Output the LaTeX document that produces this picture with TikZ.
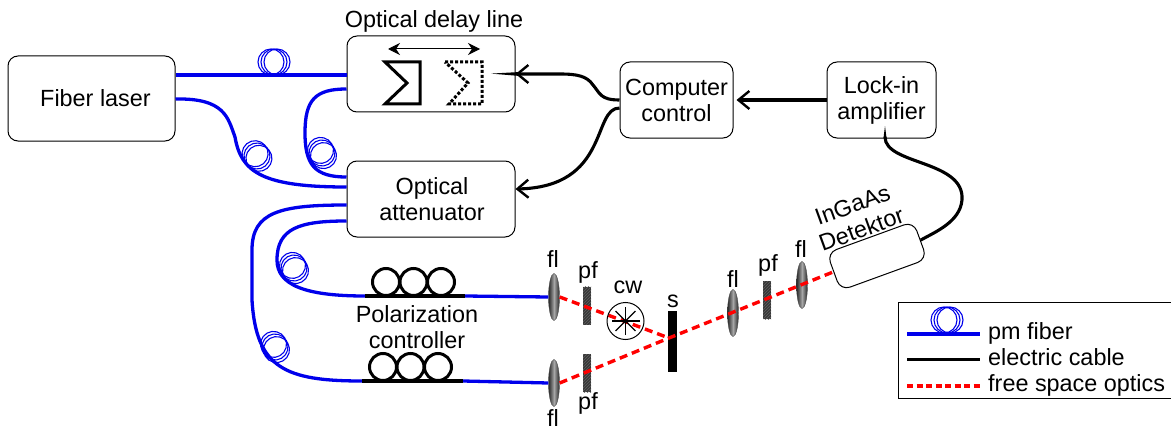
\documentclass[tikz,border=0pt]{standalone}
\usepackage{fontspec}
\setmainfont{Liberation Sans}
\usetikzlibrary{arrows.meta,shapes.geometric,patterns}
\definecolor{fiberblue}{RGB}{0,0,235}
\tikzset{
    coil/.pic={
        \foreach \d in {-3,0,3}
            \draw[fiberblue,line width=1.1] (\d,0) circle (13);
    },
    pc/.pic={
        \foreach \d in {0,27.5,55}
            \draw[black,line width=3] (\d,0) circle (13.5);
    }
}
\begin{document}
\begin{tikzpicture}[x=1pt,y=-1pt,node distance=125pt,>={Straight Barb[length=11pt,width=18pt,line width=2.4pt]},
        box/.style={draw,rounded corners=10,line width=1,align=center,minimum width=168,minimum height=76,inner sep=0},
        ctrl/.style={box,minimum width=113,minimum height=76},
        lens/.style={ellipse,draw=black!70,line width=0.4,minimum width=11,minimum height=47,inner sep=0,left color=black!85,right color=black!85,middle color=black!35},
        filter/.style={rectangle,fill=black!78,minimum width=8,minimum height=38,inner sep=0,postaction={pattern=north east lines,pattern color=black!62}},
        txt/.style={inner sep=0,align=center},
        fiber/.style={fiberblue,line width=3.3},
        cable/.style={black,line width=3.1},
        beam/.style={red,line width=3.4,dash pattern=on 8pt off 5pt},
        every node/.style={font=\fontsize{23.4}{26}\selectfont}]
    \useasboundingbox (0,0) rectangle (1171,428);

    \node[box,minimum width=167,minimum height=85] (laser) at (91.5,98.5) {\hspace{8pt}Fiber laser};
    \node[box] (delay) at (431,74) {};
    \node[box] (atten) [below of = delay] {\hspace{2pt}Optical\\\hspace{2pt}attenuator};
    \node[txt] (delaytext) [above of = delay, xshift = 3, yshift = -73] {\strut Optical delay line};
    \node[ctrl] (comp) at (676.5,100) {Computer\\control};
    \node[ctrl,minimum width=109] (lock) [right of = comp, xshift = 80] {Lock-in\\amplifier};
    \node[box,rotate=20,minimum width=92,minimum height=40] (det) at (877,256) {};
    \node[txt,rotate=20] (dettext) at (857,217) {InGaAs\\Detektor};

    % free space parts
    \node[lens] (fl1) at (554,297) {};
    \node[lens] (fl2) at (554,383) {};
    \node[lens] (fl3) at (733,313) {};
    \node[lens] (fl4) at (802,285) {};
    \node[filter] (pf1) at (587,305.5) {};
    \node[filter] (pf2) at (587,373) {};
    \node[filter] (pf3) at (767,300) {};
    \node[rectangle,fill=black,minimum width=9,minimum height=61,inner sep=0] (s) at (672.5,341.5) {};
    \coordinate (spot) at (669,338);

    \node[txt] (fl1text) at (553,259) {fl};
    \node[txt] (pf1text) at (588,272) {pf};
    \node[txt] (cwtext) at (628,287) {cw};
    \node[txt] (stext) at (673,301) {s};
    \node[txt] (pf2text) at (588,403) {pf};
    \node[txt] (fl2text) at (553,418.5) {fl};
    \node[txt] (fl3text) at (733,279) {fl};
    \node[txt] (pf3text) at (768,265) {pf};
    \node[txt] (fl4text) at (801,249) {fl};
    \node[txt] (pctext) at (417,327.5) {Polarization\\controller};

    % fibers
    \coordinate (pc1a) at (365,296);
    \coordinate (pc1b) at (465,296);
    \coordinate (pc2a) at (362,381);
    \coordinate (pc2b) at (463,381);
    \draw[fiber] ([yshift=23.5]laser.east) -- ([yshift=-1]delay.west);
    \draw[fiber] ([yshift=-0.5]laser.east) .. controls (225,98) and (228,118) .. (235,137) .. controls (241,172) and (262,187) .. ([yshift=12]atten.west);
    \draw[fiber] ([yshift=-15]delay.west) .. controls (315,89) and (305,100) .. (305,133) .. controls (305,165) and (315,177) .. ([yshift=22]atten.west);
    \draw[fiber] ([yshift=-6]atten.west) .. controls (280,205) and (252,212) .. (252,250) -- (252,300) .. controls (256,368) and (285,381) .. (pc2a);
    \draw[fiber] ([yshift=-22]atten.west) .. controls (300,221) and (277,228) .. (277,260) .. controls (277,285) and (305,296) .. (pc1a);
    \draw[fiber] (pc1b) -- (fl1.west);
    \draw[fiber] (pc2b) -- (fl2.west);
    \draw[cable] (pc1a) -- (pc1b);
    \draw[cable] (pc2a) -- (pc2b);
    \pic at (274,62) {coil};
    \pic[rotate=-50] at (257,156) {coil};
    \pic[rotate=-60] at (322,153) {coil};
    \pic[rotate=-60] at (294,268) {coil};
    \pic[rotate=-60] at (275,347) {coil};
    \pic at (386,282) {pc};
    \pic at (383,367) {pc};

    % delay stage
    \draw[{Stealth[length=12pt,width=12pt]}-{Stealth[length=12pt,width=12pt]},line width=1] (388,49) -- (480,49);
    \draw[line width=3] (385,62) -- (420,62) -- (420,104) -- (385,104) -- (407,83) -- cycle;
    \draw[line width=3,dotted] (445,62) -- (482,62) -- (482,104) -- (449,104) -- (468,83) -- cycle;

    % beams
    \draw[beam] (fl1.east) -- (spot);
    \draw[beam] (fl2.east) -- (spot) -- (det.west);

    \node[circle,draw,line width=1,minimum size=37,inner sep=0] (cw) at (625.5,321) {};
    \foreach \a in {0,45,90,135}
        \draw[line width=1.2] ([shift={(\a:14)}]cw.center) -- ([shift={(\a+180:14)}]cw.center);

    % cables
    \draw[cable,->] (lock.west) -- ([xshift=3]comp.east);
    \draw[cable,->] (comp.west) .. controls (600,100) and (600,93) .. (593,85) .. controls (587,76) and (577,74) .. (560,74) -- (delay.east);
    \fill (491,73.6) -- (520,72) -- (520,76) -- cycle;
    \draw[cable,->] ([yshift=-8]comp.west) .. controls (592,108) and (610,187) .. ([yshift=10]atten.east);
    \fill (885,126) -- (883.5,138) -- (886.5,138) -- cycle;
    \draw[cable] (885,137) .. controls (885,165) and (965,160) .. (962,200) .. controls (960,222) and (935,232) .. (det.east);

    % legend
    \node[rectangle,draw,line width=1,minimum width=275,minimum height=96,inner sep=0] (legend) at (1036,350.5) {};
    \coordinate (leg1a) at (907,334);
    \coordinate (leg1b) at (980,334);
    \coordinate (leg2a) at (907,359.5);
    \coordinate (leg2b) at (980,359.5);
    \coordinate (leg3a) at (907,386);
    \coordinate (leg3b) at (980,386);
    \draw[fiber] (leg1a) -- (leg1b);
    \pic at (947,320) {coil};
    \draw[cable] (leg2a) -- (leg2b);
    \draw[beam,dash pattern=on 6pt off 3.5pt] (leg3a) -- (leg3b);
    \node[txt,anchor=base west] (leg1text) at (988,339) {pm fiber};
    \node[txt,anchor=base west] (leg2text) at (988,365) {electric cable};
    \node[txt,anchor=base west] (leg3text) at (988,391) {free space optics};
\end{tikzpicture}
\end{document}
